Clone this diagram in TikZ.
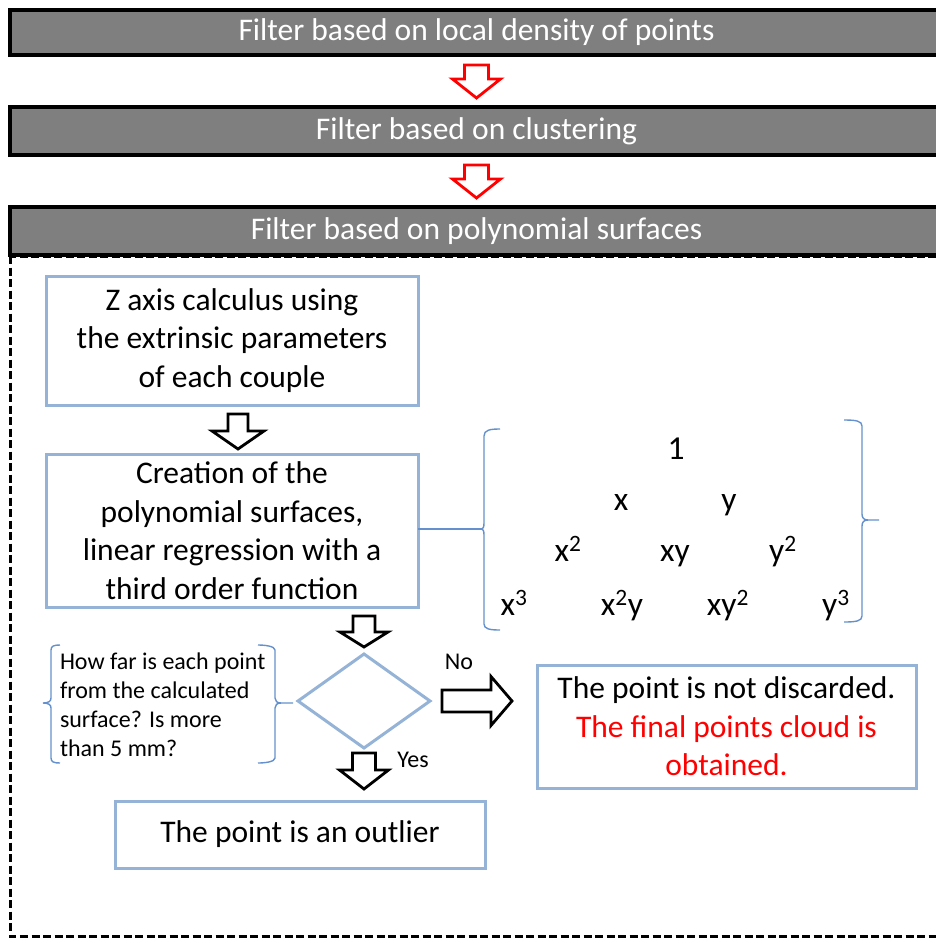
\documentclass[tikz,border=0pt]{standalone}
\usepackage{fontspec}
\setmainfont{Carlito}
\usetikzlibrary{shapes.geometric,calc}
\definecolor{barfill}{RGB}{127,127,127}
\definecolor{boxblue}{RGB}{149,179,215}
\definecolor{braceblue}{RGB}{100,145,205}

% hollow block arrow pointing along +y: shaft half width, head half width,
% shaft length, total length
\tikzset{pics/blockarrow/.style n args={4}{code={
  \draw[line join=miter] (-#1,0) -- (#1,0) -- (#1,#3) -- (#2,#3) -- (0,#4)
        -- (-#2,#3) -- (-#1,#3) -- cycle;}}}

\begin{document}
\begin{tikzpicture}[x=1pt,y=-1pt,
  every node/.style={outer sep=0pt},
  bar/.style={draw=black, line width=3.5pt, fill=barfill, text=white,
    minimum width=933pt, inner sep=0pt, font=\fontsize{31.5}{38}\selectfont},
  stepbox/.style={draw=boxblue, line width=3pt, align=center, inner sep=0pt,
    font=\fontsize{31.5}{38.5}\selectfont},
  term/.style={anchor=base, inner sep=0pt, font=\fontsize{33.5}{38}\selectfont},
  brace/.style={draw=braceblue, line width=1.4pt},
  lbl/.style={inner sep=0pt, font=\fontsize{24}{29}\selectfont},
  redarrow/.style={red, line width=2.8pt},
  blackarrow/.style={black, line width=2.8pt}]

\useasboundingbox (0,0) rectangle (936,938);

% dashed frame of the third stage
\draw[line width=3pt, dash pattern=on 8pt off 3.5pt] (10,256) rectangle (943,936);

% the three filter stages
\node[bar, minimum height=45pt] (bar1) at (476.5,32.5) {Filter based on local density of points};
\node[bar, minimum height=48pt] (bar2) at (476.5,131) {Filter based on clustering};
\node[bar, minimum height=48pt] (bar3) at (476.5,231) {Filter based on polynomial surfaces};

\pic[redarrow] at ($(bar1.south)+(0,10)$) {blockarrow={12}{24}{14}{33}};
\pic[redarrow] at ($(bar2.south)+(0,10)$) {blockarrow={12}{24}{14}{33}};

% steps inside the polynomial-surface filter
\node[stepbox, minimum width=372pt, minimum height=129pt] (zaxis) at (232,340.5)
  {Z axis calculus using\\the extrinsic parameters\\of each couple};
\node[stepbox, minimum width=372pt, minimum height=153pt] (poly) at (232,530.5)
  {Creation of the\\polynomial surfaces,\\linear regression with a\\third order function};
\node[diamond, draw=boxblue, line width=3pt, minimum width=132pt,
  minimum height=94pt, inner sep=0pt] (dia) at (364,701) {};
\node[stepbox, minimum width=379pt, minimum height=123pt] (keep) at (726.5,726.5)
  {The point is not discarded.\\\textcolor{red}{The final points cloud is}\\\textcolor{red}{obtained.}};
\node[stepbox, minimum width=370pt, minimum height=67pt] (outlier) at (300,834.5)
  {The point is an outlier};

\pic[blackarrow] at ($(zaxis.south)+(6,9)$) {blockarrow={10}{26}{17}{35}};
\pic[blackarrow] at ($(poly.south -| dia.north)+(0,9)$) {blockarrow={11}{24}{16}{31}};
\pic[blackarrow] at ($(dia.south)+(0,5)$) {blockarrow={11.5}{24.5}{17}{36}};
\pic[blackarrow, rotate=90] at ($(dia.east)+(12,0)$) {blockarrow={11}{24.5}{49}{70}};

\node[lbl] (no) at (459,662) {No};
\node[lbl] (yes) at (413,760) {Yes};

% question beside the decision
\node[lbl, anchor=west, align=left] (question) at (60,705)
  {How far is each point\\from the calculated\\surface? Is more\\than 5 mm?};
\coordinate (qltip) at (43,703);
\coordinate (qrtip) at ($(dia.west)+(-5,2)$);
\draw[brace] (60,645) .. controls (54,645) and (51,646) .. (51,650) -- (51,698)
  .. controls (51,701) and (49,703) .. (qltip)
  .. controls (49,703) and (51,705) .. (51,708) -- (51,758)
  .. controls (51,762) and (54,763) .. (60,763);
\draw[brace] (258,645) .. controls (264,645) and (275,646) .. (275,650) -- (275,698)
  .. controls (275,701) and (277,703) .. (281,703) -- (qrtip);
\draw[brace] (281,703) .. controls (277,703) and (275,705) .. (275,708) -- (275,758)
  .. controls (275,762) and (264,763) .. (258,763);

% monomials of the third order polynomial surface
\node[term] (t1)   at (676,459) {1};
\node[term] (tx)   at (621,510) {x};
\node[term] (ty)   at (729,510) {y};
\node[term] (tx2)  at (568,561) {x\textsuperscript{2}};
\node[term] (txy)  at (675,561) {xy};
\node[term] (ty2)  at (783,561) {y\textsuperscript{2}};
\node[term] (tx3)  at (514,615) {x\textsuperscript{3}};
\node[term] (tx2y) at (622,615) {x\textsuperscript{2}y};
\node[term] (txy2) at (728,615) {xy\textsuperscript{2}};
\node[term] (ty3)  at (836,615) {y\textsuperscript{3}};

\coordinate (lbtip) at (482,529);
\draw[brace] (poly.east |- lbtip) -- (lbtip);
\draw[brace] (500,429) .. controls (490,429) and (484,430) .. (484,436) -- (484,523)
  .. controls (484,527) and (483,529) .. (lbtip)
  .. controls (483,529) and (484,531) .. (484,535) -- (484,624)
  .. controls (484,629) and (490,630) .. (500,630);
\draw[brace] (844,420) .. controls (856,420) and (862,421) .. (862,426) -- (862,514)
  .. controls (862,518) and (864,520) .. (868,520) -- (879,520);
\draw[brace] (868,520) .. controls (864,520) and (862,522) .. (862,526) -- (862,616)
  .. controls (862,621) and (856,622) .. (844,622);
\end{tikzpicture}
\end{document}
